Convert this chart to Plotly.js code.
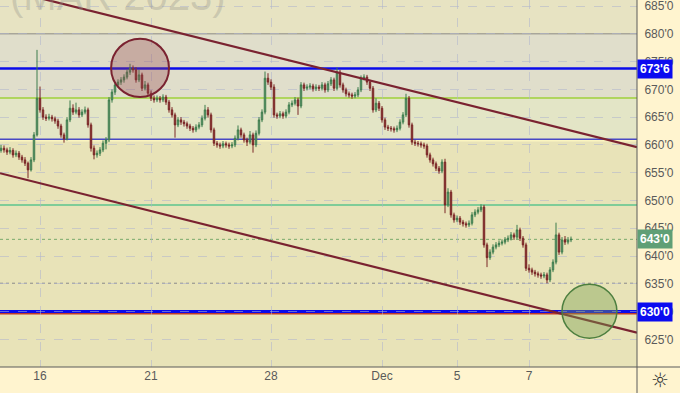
<!DOCTYPE html>
<html><head><meta charset="utf-8">
<script src="https://cdn.plot.ly/plotly-3.0.1.min.js"></script>
<style>html,body{margin:0;padding:0;background:#FFF4CF;}#chart{width:680px;height:393px;}</style>
</head><body><div id="chart"></div>
<script>
// candle index (x) and OHLC values
const barIndex = Array.from({length:191},(_, i)=>i);
const openP = [659.0,659.4,659.1,658.7,659.0,658.2,658.5,657.8,657.3,656.7,655.5,657.3,661.8,668.4,666.3,665.0,664.8,665.0,664.7,664.3,
663.4,661.8,661.1,664.5,666.6,665.9,666.3,665.4,665.9,666.3,663.6,659.4,658.2,658.5,659.1,660.3,660.9,668.1,669.5,670.8,
671.3,671.7,672.2,673.1,673.8,673.5,671.7,672.6,670.2,670.8,669.3,668.4,668.1,668.4,668.1,668.6,667.7,666.3,665.4,663.6,
664.5,664.1,663.8,663.4,663.0,662.7,663.2,663.6,664.8,666.3,665.4,662.7,660.3,660.0,659.8,660.2,660.0,659.8,660.0,661.2,
662.7,661.8,660.9,660.5,661.8,660.0,662.1,664.5,665.9,672.0,671.3,670.4,665.4,665.2,665.6,665.2,665.9,667.2,667.5,668.1,
667.0,670.8,670.2,670.4,670.6,670.1,670.4,670.2,670.8,669.9,671.0,671.7,670.2,673.1,670.8,669.9,669.2,669.0,668.8,669.0,
669.9,672.0,672.2,671.3,670.2,666.3,667.5,666.6,664.5,663.2,663.0,662.9,662.7,663.0,664.1,665.4,668.4,663.6,660.5,660.3,
660.2,660.0,659.8,658.2,657.3,656.6,655.8,655.3,656.9,649.2,651.5,647.4,646.5,646.8,646.1,645.8,645.6,645.9,647.4,647.9,
648.3,648.8,642.0,639.7,640.7,641.6,642.0,642.3,642.5,642.9,643.2,643.8,643.4,644.7,643.2,642.0,637.8,637.5,637.1,636.8,
636.6,636.4,636.6,635.7,637.5,638.9,643.8,640.7,642.9,642.5,642.9];
const highP = [660.0,659.9,659.5,659.6,659.4,659.0,658.9,658.2,657.8,657.0,657.8,662.3,677.1,670.5,666.8,665.5,665.6,665.4,665.1,664.7,
663.8,662.2,665.0,668.0,667.3,667.6,666.8,666.4,666.9,666.7,664.0,659.9,659.0,659.6,660.8,661.4,668.6,670.0,671.3,671.8,
672.2,672.7,673.6,674.6,674.3,674.0,673.5,673.0,671.5,671.2,669.8,668.9,668.9,668.8,669.1,669.0,668.1,666.8,665.8,665.0,
665.0,664.5,664.2,663.8,663.4,663.7,664.1,665.3,667.2,666.8,665.8,663.1,660.7,660.4,660.7,660.6,660.4,660.5,661.7,663.5,
663.1,662.2,661.3,662.5,662.2,662.6,665.0,666.4,673.2,672.9,671.8,670.9,665.8,666.1,666.0,666.4,667.7,668.0,668.6,668.5,
671.3,671.2,670.9,671.1,671.0,670.9,670.8,671.3,671.2,671.5,672.2,672.1,673.9,673.5,671.2,670.3,669.6,669.4,669.5,670.4,
672.5,672.7,672.6,671.7,670.6,668.4,667.9,667.0,664.9,663.6,663.4,663.3,663.5,664.6,665.9,669.2,668.8,664.0,660.9,660.7,
660.6,660.4,660.2,658.6,657.7,657.0,656.2,657.4,657.5,652.2,651.9,647.8,647.3,647.2,646.5,646.2,646.4,647.9,648.4,648.8,
649.3,649.2,642.4,641.2,642.1,642.5,642.8,643.0,643.4,643.7,644.3,644.2,645.6,645.1,643.6,642.4,638.5,637.9,637.5,637.2,
637.0,637.1,637.0,638.0,639.4,646.0,644.2,643.4,643.6,643.4,643.5];
const lowP = [658.6,658.6,658.2,658.3,657.7,657.8,657.3,656.8,656.2,654.0,655.2,656.9,661.5,665.8,664.5,664.3,664.4,664.2,663.8,662.9,
661.3,660.4,660.8,664.1,665.4,665.5,664.9,665.0,665.5,663.1,658.8,657.4,657.7,658.0,658.7,659.2,660.5,667.6,669.0,670.3,
670.8,671.2,671.8,672.6,673.0,671.2,671.3,669.7,669.8,668.8,667.9,667.6,667.7,667.6,667.7,667.2,665.8,664.9,661.3,663.2,
663.6,663.3,662.9,662.5,662.2,662.3,662.8,663.2,664.4,664.9,662.2,659.8,659.5,659.3,659.4,659.5,659.3,659.4,659.6,660.8,
661.3,660.4,659.8,660.1,658.6,659.6,661.7,664.1,665.5,670.8,669.9,664.9,664.7,664.8,664.7,664.8,665.5,666.8,667.1,665.4,
666.6,669.7,669.8,670.0,669.6,669.7,669.7,669.8,669.4,669.5,670.6,669.7,669.8,670.3,669.4,668.7,668.5,668.3,668.4,668.6,
669.5,671.6,670.8,669.7,665.8,665.9,666.1,664.0,662.7,662.5,662.4,662.2,662.3,662.6,663.7,665.0,663.1,660.0,659.8,659.7,
659.5,659.3,657.7,656.8,656.1,655.3,654.8,654.9,647.7,648.8,646.9,646.0,646.1,645.6,645.3,645.1,645.2,645.5,647.0,647.5,
647.9,641.5,638.0,639.3,640.3,641.2,641.6,641.9,642.1,642.5,642.8,642.9,643.0,642.7,641.5,637.3,637.0,636.6,636.3,636.1,
635.9,636.0,635.1,635.3,637.1,638.5,640.2,640.3,642.0,642.1,642.5];
const closeP = [659.4,659.1,658.7,659.0,658.2,658.5,657.8,657.3,656.7,655.5,657.3,661.8,668.4,666.3,665.0,664.8,665.0,664.7,664.3,663.4,
661.8,661.1,664.5,666.6,665.9,666.3,665.4,665.9,666.3,663.6,659.4,658.2,658.5,659.1,660.3,660.9,668.1,669.5,670.8,671.3,
671.7,672.2,673.1,673.8,673.5,671.7,672.6,670.2,670.8,669.3,668.4,668.1,668.4,668.1,668.6,667.7,666.3,665.4,663.6,664.5,
664.1,663.8,663.4,663.0,662.7,663.2,663.6,664.8,666.3,665.4,662.7,660.3,660.0,659.8,660.2,660.0,659.8,660.0,661.2,662.7,
661.8,660.9,660.5,661.8,660.0,662.1,664.5,665.9,672.0,671.3,670.4,665.4,665.2,665.6,665.2,665.9,667.2,667.5,668.1,667.0,
670.8,670.2,670.4,670.6,670.1,670.4,670.2,670.8,669.9,671.0,671.7,670.2,673.1,670.8,669.9,669.2,669.0,668.8,669.0,669.9,
672.0,672.2,671.3,670.2,666.3,667.5,666.6,664.5,663.2,663.0,662.9,662.7,663.0,664.1,665.4,668.4,663.6,660.5,660.3,660.2,
660.0,659.8,658.2,657.3,656.6,655.8,655.3,656.9,649.2,651.5,647.4,646.5,646.8,646.1,645.8,645.6,645.9,647.4,647.9,648.3,
648.8,642.0,639.7,640.7,641.6,642.0,642.3,642.5,642.9,643.2,643.8,643.4,644.7,643.2,642.0,637.8,637.5,637.1,636.8,636.6,
636.4,636.6,635.7,637.5,638.9,643.8,640.7,642.9,642.5,642.9,643.0];

// x-axis ticks (candle index of each labelled session)
const dayTickIdx = [13, 50, 90, 127, 152, 176];
const dayTickText = ['16','21','28','Dec','5','7'];
// price-axis ticks
const priceTicks = [625,630,635,640,645,650,655,660,665,670,675,680,685];
const priceTickText = ["625'0","630'0","635'0","640'0","645'0","650'0","655'0","660'0","665'0","670'0","675'0","680'0","685'0"];

// trend channel lines (x index, price)
const upperTrendX = [-0.33, 212];
const upperTrendY = [688.2, 659.6];
const lowerTrendX = [-0.33, 212];
const lowerTrendY = [654.9, 626.2];

// horizontal levels
const levelGray = 680.0;
const levelBlueTop = 673.75;
const levelLime = 668.44;
const levelBlueMid = 661.0;
const levelTeal = 649.2;
const levelLast = 643.0;
const levelDotGray = 635.1;
const levelBlueLow = 630.0;
const levelRedLow = 629.6;

// highlighted circles (x index range, price range)
const redCircleX = [36.7, 56.0], redCircleY = [668.6, 679.1];
const greenCircleX = [187.0, 205.3], greenCircleY = [625.2, 634.9];

const yMin = 620.02, yMax = 686.08;
const xMin = -0.333, xMax = 212;

const traces = [
  {type:'candlestick', x:barIndex, open:openP, high:highP, low:lowP, close:closeP,
   increasing:{line:{color:'#3d7c4c', width:1}, fillcolor:'#78a581'},
   decreasing:{line:{color:'#7a2626', width:1}, fillcolor:'#8c3434'},
   whiskerwidth:0, hoverinfo:'skip', showlegend:false},
  {type:'scatter', mode:'lines', x:upperTrendX, y:upperTrendY, line:{color:'#7a2230', width:2.2}, hoverinfo:'skip', showlegend:false},
  {type:'scatter', mode:'lines', x:lowerTrendX, y:lowerTrendY, line:{color:'#7a2230', width:2.2}, hoverinfo:'skip', showlegend:false}
];

function hline(y, color, width, dash, layer){
  return {type:'line', xref:'paper', yref:'y', x0:0, x1:1, y0:y, y1:y, line:{color:color, width:width, dash:dash||'solid'}, layer:layer||'between'};
}
function band(y0, y1, color){
  return {type:'rect', xref:'paper', yref:'y', x0:0, x1:1, y0:y0, y1:y1, fillcolor:color, line:{width:0}, layer:'below'};
}

const shapes = [
  band(yMin, levelBlueMid, '#E8E3B8'),
  band(levelBlueMid, levelLime, '#E3E5C6'),
  band(levelLime, levelGray, '#E0DECB'),
  band(levelGray, yMax, '#E7E3C2'),
  hline(levelGray, '#a8a69a', 1.5),
  hline(levelBlueTop, '#0b0bea', 2.5),
  hline(levelLime, '#9fd13a', 1.5),
  hline(levelBlueMid - 0.25, '#fbf5c0', 1.5),
  hline(levelBlueMid, '#4848c4', 1.5),
  hline(levelTeal, '#5cc48e', 1.5),
  hline(levelLast, '#79a96a', 1, 'dot'),
  hline(levelDotGray, '#8a8a8a', 1, 'dot'),
  hline(levelRedLow, '#c0392b', 1.5),
  hline(levelBlueLow, '#0b0bea', 3),
  {type:'circle', xref:'x', yref:'y', x0:redCircleX[0], x1:redCircleX[1], y0:redCircleY[0], y1:redCircleY[1],
   fillcolor:'rgba(150,70,80,0.33)', line:{color:'#7a2230', width:2}, layer:'above'},
  {type:'circle', xref:'x', yref:'y', x0:greenCircleX[0], x1:greenCircleX[1], y0:greenCircleY[0], y1:greenCircleY[1],
   fillcolor:'rgba(120,160,80,0.40)', line:{color:'#4d7f3f', width:1.5}, layer:'above'},
  // frame lines extending into the margins
  {type:'line', xref:'paper', yref:'paper', x0:1, x1:1, y0:-0.08, y1:1, line:{color:'#5a5a5a', width:1}, layer:'above'},
  {type:'line', xref:'paper', yref:'paper', x0:0, x1:1.07, y0:0, y1:0, line:{color:'#5a5a5a', width:1}, layer:'above'}
];

const annotations = [
  {xref:'paper', yref:'paper', x:0.012, y:0.946, xanchor:'left', yanchor:'bottom', showarrow:false,
   text:'(MAR 2023)', font:{family:'Liberation Sans, Arial', size:40, color:'rgba(150,150,140,0.35)'}},
  {xref:'paper', yref:'y', x:1.0, y:levelBlueTop, xanchor:'left', yanchor:'middle', showarrow:false,
   text:"<b>673'6</b>", bgcolor:'#0b0bf0', borderpad:2, font:{family:'Liberation Sans, Arial', size:12, color:'#ffffff'}},
  {xref:'paper', yref:'y', x:1.0, y:levelLast, xanchor:'left', yanchor:'middle', showarrow:false,
   text:"<b>643'0</b>", bgcolor:'#5f9f76', borderpad:2, font:{family:'Liberation Sans, Arial', size:12, color:'#ffffff'}},
  {xref:'paper', yref:'y', x:1.0, y:levelBlueLow, xanchor:'left', yanchor:'middle', showarrow:false,
   text:"<b>630'0</b>", bgcolor:'#0b0bf0', borderpad:2, font:{family:'Liberation Sans, Arial', size:12, color:'#ffffff'}},
  {xref:'paper', yref:'paper', x:1.036, y:-0.035, xanchor:'center', yanchor:'middle', showarrow:false,
   text:'☼', font:{family:'DejaVu Sans', size:20, color:'#333333'}}
];

const layout = {
  width:680, height:393,
  margin:{l:0, r:43, t:0, b:26, pad:0},
  paper_bgcolor:'#FFF4CF', plot_bgcolor:'#E8E3B8',
  showlegend:false,
  xaxis:{range:[xMin, xMax], tickvals:dayTickIdx, ticktext:dayTickText, showgrid:true,
         gridcolor:'rgba(175,180,205,0.55)', griddash:'dash', gridwidth:1, zeroline:false,
         ticks:'', showline:false, rangeslider:{visible:false}, fixedrange:true,
         tickfont:{family:'Liberation Sans, Arial', size:12, color:'#5a5a5a'}},
  yaxis:{range:[yMin, yMax], side:'right', tickvals:priceTicks, ticktext:priceTickText, showgrid:true,
         gridcolor:'rgba(175,180,205,0.55)', griddash:'dash', gridwidth:1, zeroline:false,
         ticks:'outside', ticklen:4, tickcolor:'rgba(0,0,0,0)', showline:false, fixedrange:true,
         ticklabeloverflow:'allow',
         tickfont:{family:'Liberation Sans, Arial', size:12, color:'#5a5a5a'}},
  shapes:shapes, annotations:annotations
};

Plotly.newPlot('chart', traces, layout, {displayModeBar:false, staticPlot:true});
</script>
</body></html>
